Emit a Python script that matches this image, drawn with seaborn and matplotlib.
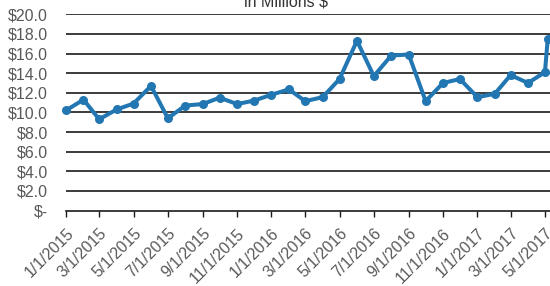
import pandas as pd
import matplotlib
matplotlib.use("Agg")
import matplotlib.pyplot as plt
import matplotlib.dates as mdates
import matplotlib.ticker as mticker
import seaborn as sns

# Dados (em milhões de $), mensais de 1/1/2015 a 5/1/2017 + último ponto cortado
datas = list(pd.date_range("2015-01-01", "2017-05-01", freq="MS")) + [pd.Timestamp("2017-05-06")]
valores = [10.2, 11.3, 9.3, 10.3, 10.9, 12.7, 9.4, 10.7, 10.85, 11.5, 10.85, 11.2,
           11.8, 12.35, 11.15, 11.55, 13.4, 17.3, 13.7, 15.8, 15.9, 11.15, 13.0, 13.4,
           11.55, 11.9, 13.8, 13.0, 14.1, 17.5]
y_ticks = [0, 2, 4, 6, 8, 10, 12, 14, 16, 18, 20]
titulo = "in Millions $"

df = pd.DataFrame({"data": datas, "valor": valores})

sns.set_style("white")
plt.rcParams["font.family"] = ["Liberation Sans", "DejaVu Sans"]
cinza = "#595959"

fig = plt.figure(figsize=(5.5, 2.86), dpi=100)
ax = fig.add_axes([66 / 550, 1 - 210.5 / 286, 1 - 66 / 550, (210.5 - 14.3) / 286])

sns.lineplot(data=df, x="data", y="valor", ax=ax, color="#2277b3", linewidth=2.9,
             marker="o", markersize=6.5, markeredgewidth=0, clip_on=False)

# grade horizontal
for v in y_ticks[1:]:
    ax.axhline(v, color="#1a1a1a", linewidth=1.2, zorder=0)

ax.set_ylim(0, 20)
ax.set_xlim(pd.Timestamp("2015-01-01"), pd.Timestamp("2017-05-10"))
ax.set_yticks(y_ticks)
ax.set_yticklabels(["$-"] + [f"${v:.1f}" for v in y_ticks[1:]])

ax.xaxis.set_major_locator(mdates.MonthLocator(bymonth=[1, 3, 5, 7, 9, 11]))
ax.xaxis.set_major_formatter(mticker.FuncFormatter(
    lambda x, pos: (lambda d: f"{d.month}/{d.day}/{d.year}")(mdates.num2date(x))))

for s in ["top", "right", "left"]:
    ax.spines[s].set_visible(False)
ax.spines["bottom"].set_color("#1a1a1a")
ax.spines["bottom"].set_linewidth(1.2)

ax.tick_params(axis="y", length=0, pad=13, labelsize=11.5, labelcolor=cinza)
ax.tick_params(axis="x", direction="out", length=4, width=1, color="#1a1a1a",
               labelsize=11.5, labelcolor=cinza, pad=7, bottom=True)
plt.setp(ax.get_xticklabels(), rotation=45, ha="right", rotation_mode="anchor")

ax.set_xlabel("")
ax.set_ylabel("")
ax.grid(False)

fig.text(286 / 550, 1 - 7 / 286, titulo, ha="center", va="baseline",
         fontsize=11.5, color="#333333")

fig.savefig("out.png", dpi=100)
